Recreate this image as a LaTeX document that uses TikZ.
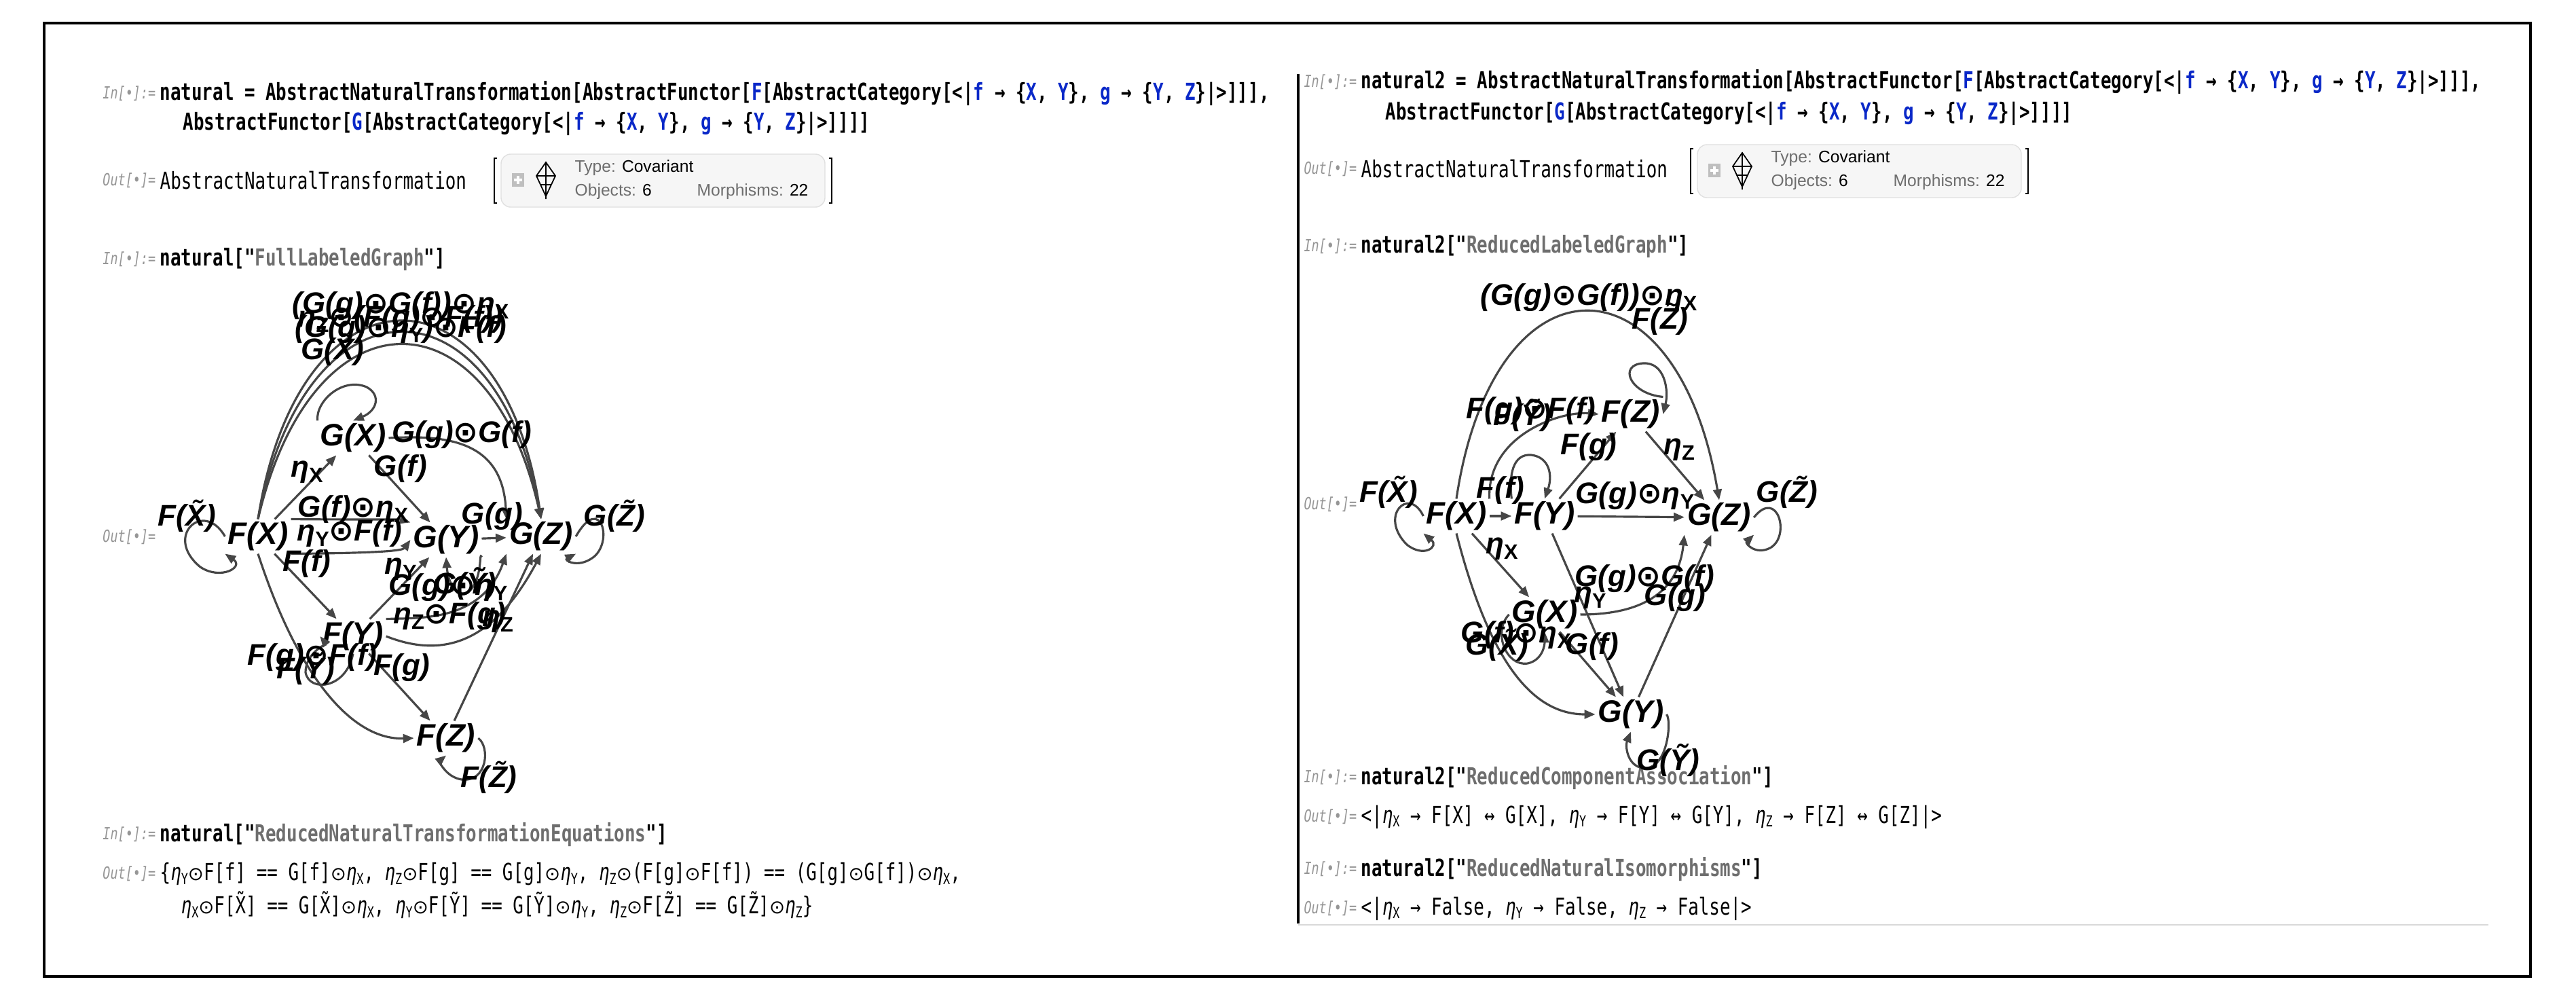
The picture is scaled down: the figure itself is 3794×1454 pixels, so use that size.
\documentclass[tikz,border=0pt]{standalone}
\usepackage{fontspec}
\usepackage{graphicx}
\usetikzlibrary{arrows.meta}
\newfontfamily\cf[FakeStretch=0.75]{DejaVu Sans Mono}
\newfontfamily\glf{Liberation Sans}
\newfontfamily\djv{DejaVu Sans}
\definecolor{cblue}{RGB}{10,40,200}
\definecolor{cgray}{RGB}{110,110,110}
\definecolor{lgray}{RGB}{150,150,150}
\definecolor{egray}{RGB}{70,70,70}
\newcommand\bl[1]{\textcolor{cblue}{#1}}
\newcommand\gs[1]{\raisebox{-0.35ex}{\scalebox{0.7}{\upshape #1}}}
\newcommand\cs[1]{\raisebox{-0.3ex}{\scalebox{0.65}{#1}}}
\newcommand\od{{\djv\upshape ⊙}}
\newcommand\cod{{\djv\scalebox{0.8}{⊙}}}
\newcommand\inl{\textit{In[\textbullet]:=}}
\newcommand\outl{\textit{Out[\textbullet]=}}
\tikzset{
 code/.style={anchor=west,inner sep=0,font=\cf\fontsize{9.8pt}{11pt}\selectfont\bfseries},
 outc/.style={anchor=west,inner sep=0,font=\cf\fontsize{9.8pt}{11pt}\selectfont},
 lab/.style={anchor=east,inner sep=0,text=lgray,font=\cf\fontsize{7pt}{8pt}\selectfont},
 gn/.style={inner sep=1pt,font=\glf\bfseries\itshape\fontsize{13pt}{14pt}\selectfont},
 el/.style={inner sep=0,font=\glf\bfseries\itshape\fontsize{12.5pt}{14pt}\selectfont},
 arr/.style={draw=egray,line width=0.9pt,-{Triangle[length=4.5pt,width=3.6pt]}},
 boxt/.style={anchor=west,inner sep=0,font=\glf\fontsize{7pt}{8pt}\selectfont},
 infobox/.pic={
  \draw[rounded corners=4pt,draw=black!12,fill=black!3.5] (0,0) rectangle (477,78);
  \fill[black!25] (16,28) rectangle (34,48);
  \draw[white,line width=1pt] (25,32)--(25,44) (19,38)--(31,38);
  \draw[black,line width=0.5pt] (66,12)--(52,32)--(66,62)--(80,32)--cycle (52,32)--(80,32) (58,45)--(74,45) (66,12)--(66,66);
  \node[boxt] (-t) at (108,20) {\textcolor{cgray}{Type:} Covariant};
  \node[boxt] (-o) at (108,55) {\textcolor{cgray}{Objects:} 6};
  \node[boxt] (-m) at (288,55) {\textcolor{cgray}{Morphisms:} 22};
  \draw[line width=0.5pt] (-6,6)--(-10,6)--(-10,72)--(-6,72) (483,6)--(487,6)--(487,72)--(483,72);
 }
}
\begin{document}
\begin{tikzpicture}[x=0.01cm,y=-0.01cm]
\useasboundingbox (0,0) rectangle (3794,1454);
\fill[white] (0,0) rectangle (3794,1454);
\draw[line width=1.2pt] (65,34) rectangle (3727,1438);
\draw[line width=0.9pt] (1912,109) -- (1912,1360);
\draw[black!15,line width=0.6pt] (1912,1362) -- (3665,1362);

% ---------- left column text
\node[lab] (l1) at (230,138) {\inl};
\node[code] (c1) at (235,138) {natural = AbstractNaturalTransformation[AbstractFunctor[\bl{F}[AbstractCategory[<|\bl{f} → \{\bl{X}, \bl{Y}\}, \bl{g} → \{\bl{Y}, \bl{Z}\}|>]]],};
\node[code] (c2) at (269,182) {AbstractFunctor[\bl{G}[AbstractCategory[<|\bl{f} → \{\bl{X}, \bl{Y}\}, \bl{g} → \{\bl{Y}, \bl{Z}\}|>]]]]};
\node[lab] (l2) at (230,266) {\outl};
\node[outc] (o1) at (235,266) {AbstractNaturalTransformation};
\pic (b1) at (738,227) {infobox};
\node[lab] (l3) at (230,382) {\inl};
\node[code] (c3) at (235,382) {natural["\textcolor{cgray}{FullLabeledGraph}"]};
\node[lab] (l4) at (230,791) {\outl};
\node[lab] (l5) at (230,1229) {\inl};
\node[code] (c4) at (235,1229) {natural["\textcolor{cgray}{ReducedNaturalTransformationEquations}"]};
\node[lab] (l6) at (230,1287) {\outl};
\node[outc] (e1) at (235,1287) {\{\textit{η}\cs{Y}\cod F[f] == G[f]\cod\textit{η}\cs{X}, \textit{η}\cs{Z}\cod F[g] == G[g]\cod\textit{η}\cs{Y}, \textit{η}\cs{Z}\cod(F[g]\cod F[f]) == (G[g]\cod G[f])\cod\textit{η}\cs{X},};
\node[outc] (e2) at (266,1333) {\textit{η}\cs{X}\cod F[X̃] == G[X̃]\cod\textit{η}\cs{X}, \textit{η}\cs{Y}\cod F[Ỹ] == G[Ỹ]\cod\textit{η}\cs{Y}, \textit{η}\cs{Z}\cod F[Z̃] == G[Z̃]\cod\textit{η}\cs{Z}\}};

% ---------- right column text
\node[lab] (r1) at (1999,121) {\inl};
\node[code] (d1) at (2004,121) {natural2 = AbstractNaturalTransformation[AbstractFunctor[\bl{F}[AbstractCategory[<|\bl{f} → \{\bl{X}, \bl{Y}\}, \bl{g} → \{\bl{Y}, \bl{Z}\}|>]]],};
\node[code] (d2) at (2040,167) {AbstractFunctor[\bl{G}[AbstractCategory[<|\bl{f} → \{\bl{X}, \bl{Y}\}, \bl{g} → \{\bl{Y}, \bl{Z}\}|>]]]]};
\node[lab] (r2) at (1999,249) {\outl};
\node[outc] (p1) at (2004,249) {AbstractNaturalTransformation};
\pic (b2) at (2500,213) {infobox};
\node[lab] (r3) at (1999,363) {\inl};
\node[code] (d3) at (2004,363) {natural2["\textcolor{cgray}{ReducedLabeledGraph}"]};
\node[lab] (r4) at (1999,743) {\outl};
\node[lab] (r5) at (1999,1145) {\inl};
\node[code] (d4) at (2004,1145) {natural2["\textcolor{cgray}{ReducedComponentAssociation}"]};
\node[lab] (r6) at (1999,1203) {\outl};
\node[outc] (p2) at (2004,1203) {<|\textit{η}\cs{X} → F[X] ↔ G[X], \textit{η}\cs{Y} → F[Y] ↔ G[Y], \textit{η}\cs{Z} → F[Z] ↔ G[Z]|>};
\node[lab] (r7) at (1999,1280) {\inl};
\node[code] (d5) at (2004,1280) {natural2["\textcolor{cgray}{ReducedNaturalIsomorphisms}"]};
\node[lab] (r8) at (1999,1338) {\outl};
\node[outc] (p3) at (2004,1338) {<|\textit{η}\cs{X} → False, \textit{η}\cs{Y} → False, \textit{η}\cs{Z} → False|>};

% ---------- graph 1
\node[gn] (FX) at (380,790) {F(X)};
\node[gn] (GX) at (520,645) {G(X)};
\node[gn] (GY) at (657,795) {G(Y)};
\node[gn] (GZ) at (797,790) {G(Z)};
\node[gn] (FY) at (520,937) {F(Y)};
\node[gn] (FZ) at (657,1087) {F(Z)};
% loops
\draw[arr] (FX.west) .. controls (300,735) and (240,790) .. (295,835) .. controls (325,855) and (360,835) .. (FX.south west);
\draw[arr] (GZ.east) .. controls (885,725) and (905,800) .. (872,822) .. controls (850,837) and (830,825) .. (GZ.south east);
\draw[arr] (GX.north west) .. controls (465,590) and (505,555) .. (540,570) .. controls (562,582) and (555,605) .. (GX.north);
\draw[arr] (FY.south) .. controls (510,1015) and (455,1020) .. (450,990) .. controls (450,962) and (480,948) .. (FY.west);
\draw[arr] (GY.south east) .. controls (705,810) and (712,852) .. (690,872) .. controls (675,884) and (660,860) .. (GY.south);
\draw[arr] (FZ.east) .. controls (722,1100) and (718,1152) .. (680,1148) .. controls (655,1144) and (648,1120) .. (FZ.south);
% edges
\draw[arr] (FX) -- (GX);
\draw[arr] (GX) -- (GY);
\draw[arr] (GX.east) .. controls (660,640) and (740,650) .. (GZ.north west);
\draw[arr] (FX.north east) .. controls (450,765) and (590,765) .. (GY.north west);
\draw[arr] (FX.south east) .. controls (450,815) and (590,815) .. (GY.west);
\draw[arr] (GY) -- (GZ);
\draw[arr] (FX) -- (FY);
\draw[arr] (FY) -- (GY);
\draw[arr] (FY) -- (FZ);
\draw[arr] (FZ) -- (GZ);
\draw[arr] (FY.north east) .. controls (620,910) and (710,915) .. (GZ.south west);
\draw[arr] (FY.east) .. controls (640,965) and (720,960) .. (GZ.south);
\draw[arr] (FX.south) .. controls (440,1000) and (520,1090) .. (FZ.west);
\draw[arr] (FX.north) .. controls (440,377) and (740,377) .. (GZ.north);
\draw[arr] (FX.north) .. controls (450,399) and (730,399) .. (GZ.north);
\draw[arr] (FX.north) .. controls (460,423) and (720,423) .. (GZ.north);
% labels
\node[el] (t1) at (275,760) {F(X̃)};
\node[el] (t2) at (905,760) {G(Z̃)};
\node[el] (t3) at (720,1145) {F(Z̃)};
\node[el] (t4) at (450,985) {F(Ỹ)};
\node[el] (t5) at (460,968) {F(g)\od F(f)};
\node[el] (t6) at (490,515) {G(X̃)};
\node[el] (t7) at (590,450) {(G(g)\od G(f))\od\textit{η}\gs{X}};
\node[el] (t8) at (590,470) {\textit{η}\gs{Z}\od(F(g)\od F(f))};
\node[el] (t9) at (590,485) {(G(g)\od\textit{η}\gs{Y})\od F(f)};
\node[el] (t10) at (452,695) {\textit{η}\gs{X}};
\node[el] (t11) at (680,640) {G(g)\od G(f)};
\node[el] (t12) at (590,690) {G(f)};
\node[el] (t13) at (520,750) {G(f)\od\textit{η}\gs{X}};
\node[el] (t14) at (515,785) {\textit{η}\gs{Y}\od F(f)};
\node[el] (t15) at (452,830) {F(f)};
\node[el] (t16) at (590,838) {\textit{η}\gs{Y}};
\node[el] (t17) at (725,760) {G(g)};
\node[el] (t18) at (660,865) {G(g)\od\textit{η}\gs{Y}};
\node[el] (t19) at (685,860) {G(Ỹ)};
\node[el] (t20) at (662,907) {\textit{η}\gs{Z}\od F(g)};
\node[el] (t21) at (592,983) {F(g)};
\node[el] (t22) at (733,915) {\textit{η}\gs{Z}};

% ---------- graph 2
\node[gn] (HX) at (2145,760) {F(X)};
\node[gn] (HY) at (2275,760) {F(Y)};
\node[gn] (KZ) at (2532,762) {G(Z)};
\node[gn] (HZ) at (2402,610) {F(Z)};
\node[gn] (KX) at (2275,905) {G(X)};
\node[gn] (KY) at (2402,1052) {G(Y)};
% loops
\draw[arr] (HX.west) .. controls (2075,715) and (2030,760) .. (2072,802) .. controls (2097,822) and (2120,805) .. (HX.south west);
\draw[arr] (KZ.east) .. controls (2618,718) and (2638,790) .. (2607,807) .. controls (2585,818) and (2570,800) .. (KZ.south east);
\draw[arr] (HY.north west) .. controls (2222,700) and (2228,668) .. (2255,670) .. controls (2282,673) and (2287,700) .. (HY.north);
\draw[arr] (HZ.north east) .. controls (2400,580) and (2383,537) .. (2420,535) .. controls (2452,533) and (2458,575) .. (HZ.east);
\draw[arr] (KX.west) .. controls (2198,930) and (2218,982) .. (2250,977) .. controls (2272,972) and (2275,950) .. (KX.south);
\draw[arr] (KY.east) .. controls (2462,1060) and (2457,1128) .. (2425,1131) .. controls (2398,1133) and (2393,1100) .. (KY.south);
% edges
\draw[arr] (HX.north) .. controls (2200,367) and (2470,367) .. (KZ.north);
\draw[arr] (HX.north east) .. controls (2190,640) and (2300,605) .. (HZ.west);
\draw[arr] (HY) -- (HZ);
\draw[arr] (HZ) -- (KZ);
\draw[arr] (HX) -- (HY);
\draw[arr] (HY) -- (KZ);
\draw[arr] (HX) -- (KX);
\draw[arr] (KX.east) .. controls (2390,905) and (2470,890) .. (KZ.south west);
\draw[arr] (HY) -- (KY);
\draw[arr] (KX) -- (KY);
\draw[arr] (KY) -- (KZ);
\draw[arr] (HX.south) .. controls (2200,1000) and (2270,1052) .. (KY.west);
% labels
\node[el] (s1) at (2045,725) {F(X̃)};
\node[el] (s2) at (2632,725) {G(Z̃)};
\node[el] (s3) at (2242,612) {F(Ỹ)};
\node[el] (s4) at (2445,470) {F(Z̃)};
\node[el] (s5) at (2457,1120) {G(Ỹ)};
\node[el] (s6) at (2205,950) {G(X̃)};
\node[el] (s7) at (2340,438) {(G(g)\od G(f))\od\textit{η}\gs{X}};
\node[el] (s8) at (2255,605) {F(g)\od F(f)};
\node[el] (s9) at (2340,658) {F(g)};
\node[el] (s10) at (2473,662) {\textit{η}\gs{Z}};
\node[el] (s11) at (2210,722) {F(f)};
\node[el] (s12) at (2408,730) {G(g)\od\textit{η}\gs{Y}};
\node[el] (s13) at (2212,808) {\textit{η}\gs{X}};
\node[el] (s14) at (2422,852) {G(g)\od G(f)};
\node[el] (s15) at (2342,880) {\textit{η}\gs{Y}};
\node[el] (s16) at (2467,880) {G(g)};
\node[el] (s17) at (2233,935) {G(f)\od\textit{η}\gs{X}};
\node[el] (s18) at (2345,952) {G(f)};
\end{tikzpicture}
\end{document}
